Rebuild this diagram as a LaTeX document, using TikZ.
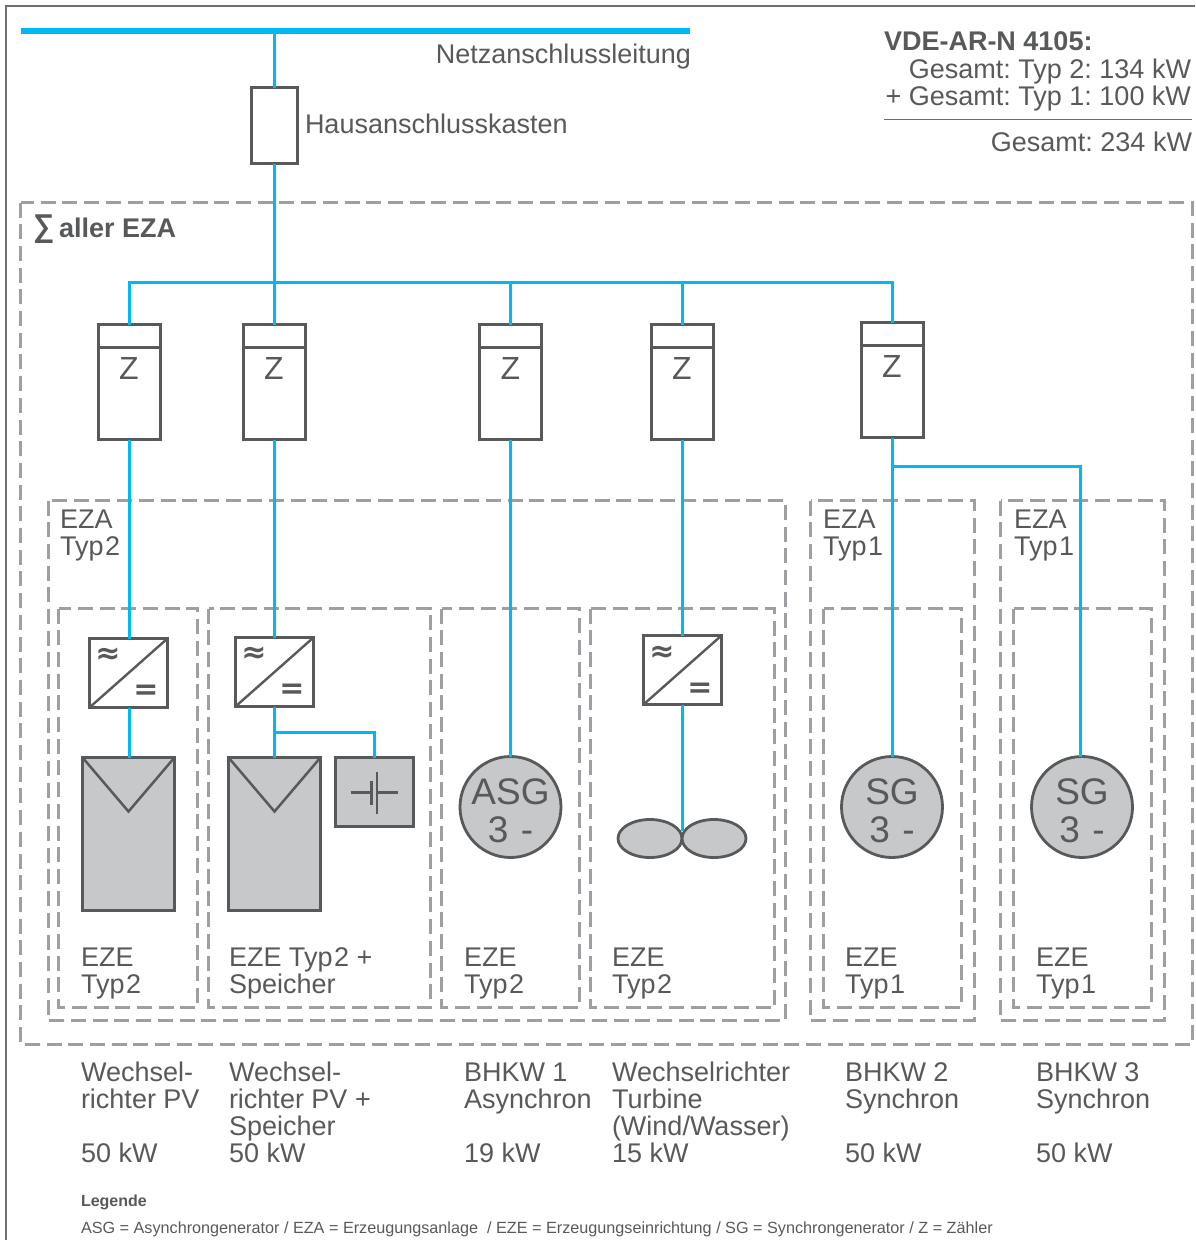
\documentclass[tikz,border=0pt]{standalone}
\usepackage{fontspec}
\usepackage{graphicx}
\setmainfont{Liberation Sans}
\newfontfamily\symfont{DejaVu Sans}
\usetikzlibrary{shapes.geometric,calc}
\definecolor{netz}{HTML}{00B9F2}
\definecolor{dgray}{HTML}{58595B}
\definecolor{dash}{HTML}{9D9FA2}
\definecolor{sfill}{HTML}{C7C8CA}
\definecolor{frame}{HTML}{6D6E71}
\newcommand{\szA}{\fontsize{27}{27}\selectfont}
\newcommand{\tsp}{\hspace{1.5pt}}
\frenchspacing
\begin{document}
\begin{tikzpicture}[x=1pt,y=-1pt,
  dashbox/.style={draw=dash,line width=2.7pt,dash pattern=on 15pt off 6.7pt},
  wire/.style={draw=netz,line width=2.8pt},
  box/.style={draw=dgray,line width=2.8pt,rectangle,outer sep=0pt,inner sep=0pt,fill=white},
  stripbox/.style={box,minimum width=62pt,minimum height=23pt},
  meter/.style={box,minimum width=62pt,minimum height=92pt},
  invbox/.style={box,minimum width=78pt,minimum height=69pt},
  pvbox/.style={box,fill=sfill,minimum width=92pt,minimum height=153pt},
  gen/.style={circle,draw=dgray,line width=2.8pt,fill=sfill,outer sep=0pt,inner sep=0pt,minimum size=101pt},
  blade/.style={ellipse,draw=dgray,line width=2.8pt,fill=sfill,outer sep=0pt,inner sep=0pt,minimum width=64pt,minimum height=38pt},
  sym/.style={draw=dgray,line width=2.1pt},
  txt/.style={text=dgray,inner sep=0pt,outer sep=0pt,font=\szA,anchor=base west,align=left},
  txtr/.style={txt,anchor=base east,align=right},
  ztxt/.style={text=dgray,inner sep=0pt,font=\fontsize{32}{32}\selectfont,anchor=base},
  gentxt/.style={text=dgray,inner sep=0pt,font=\fontsize{37}{37}\selectfont,anchor=base},
  ac/.style={text=dgray,inner sep=0pt,font=\symfont\bfseries\fontsize{30}{30}\selectfont},
  dc/.style={text=dgray,inner sep=0pt,font=\symfont\bfseries\fontsize{30}{30}\selectfont},
]
\useasboundingbox (0,0) rectangle (1195,1240);
% frame
\coordinate (fTL) at (6,6);
\coordinate (fTR) at (1195,6);
\coordinate (fBL) at (6,1240);
\draw[frame,line width=1.2pt] (fTR) -- (fTL) -- (fBL);
% dashed groups
\draw[dashbox] (20.5,202.5) rectangle (1192.5,1044.5);
\draw[dashbox] (48.5,500.5) rectangle (785.5,1020.5);
\draw[dashbox] (810.5,500.5) rectangle (974.5,1020.5);
\draw[dashbox] (1000.5,500.5) rectangle (1164.5,1020.5);
\draw[dashbox] (58.5,608.5) rectangle (197.5,1007.5);
\draw[dashbox] (208.5,608.5) rectangle (430.5,1007.5);
\draw[dashbox] (441.5,608.5) rectangle (579.5,1007.5);
\draw[dashbox] (590.5,608.5) rectangle (774.5,1007.5);
\draw[dashbox] (823.5,608.5) rectangle (961.5,1007.5);
\draw[dashbox] (1013.5,608.5) rectangle (1151.5,1007.5);
% top bar and house box
\coordinate (barW) at (21,31);
\coordinate (barE) at (690,31);
\coordinate (bus) at (274.5,282.5);
\node[box,minimum width=46pt,minimum height=76pt] (hak) at (274.5,125.5) {};
% meters
\node[stripbox] (s1) at (129.5,336) {};
\node[meter] (z1) at (129.5,393.5) {};
\node[stripbox] (s2) at (274.5,336) {};
\node[meter] (z2) at (274.5,393.5) {};
\node[stripbox] (s3) at (510.5,336) {};
\node[meter] (z3) at (510.5,393.5) {};
\node[stripbox] (s4) at (682.5,336) {};
\node[meter] (z4) at (682.5,393.5) {};
\node[stripbox] (s5) at (892.5,334) {};
\node[meter] (z5) at (892.5,391.5) {};
\node[ztxt] (zt1) at (129,379) {Z};
\node[ztxt] (zt2) at (274,379) {Z};
\node[ztxt] (zt3) at (510.5,379) {Z};
\node[ztxt] (zt4) at (682,379) {Z};
\node[ztxt] (zt5) at (892,377) {Z};
% inverters
\node[invbox] (i1) at (128.5,673) {};
\node[invbox] (i2) at (274.5,672) {};
\node[invbox] (i3) at (682.5,670) {};
\draw[sym,line width=2.4pt] (i1.south west) -- (i1.north east);
\draw[sym,line width=2.4pt] (i2.south west) -- (i2.north east);
\draw[sym,line width=2.4pt] (i3.south west) -- (i3.north east);
\node[ac] (a1) at (108,656) {≈};
\node[ac] (a2) at (254,655) {≈};
\node[ac] (a3) at (662,654) {≈};
\node[dc] (d1) at (146,692) {=};
\node[dc] (d2) at (292,691) {=};
\node[dc] (d3) at (700,690) {=};
% PV
\node[pvbox] (p1) at (128.5,834) {};
\node[pvbox] (p2) at (274.5,834) {};
\draw[draw=dgray,line width=2.5pt] (p1.north west) -- ($(p1.north)+(0,54)$) -- (p1.north east);
\draw[draw=dgray,line width=2.5pt] (p2.north west) -- ($(p2.north)+(0,54)$) -- (p2.north east);
% battery
\node[box,fill=sfill,minimum width=78pt,minimum height=69pt] (b) at (374.5,792) {};
\coordinate (bL) at ($(b.center)+(-24,0.5)$);
\coordinate (bS) at ($(b.center)+(-3,0.5)$);
\coordinate (bB) at ($(b.center)+(2.5,0.5)$);
\coordinate (bR) at ($(b.center)+(23.5,0.5)$);
\draw[sym] (bL) -- (bS);
\draw[sym] ($(bS)+(0,-12)$) -- ($(bS)+(0,12)$);
\draw[sym] ($(bB)+(0,-21)$) -- ($(bB)+(0,21)$);
\draw[sym] (bB) -- (bR);
% generators
\node[gen] (g1) at (510.5,807) {};
\node[gen] (g2) at (892,807) {};
\node[gen] (g3) at (1082,807) {};
\node[gentxt] (g1a) at (510.5,804) {ASG};
\node[gentxt] (g1b) at (510.5,842) {3\,\,-};
\node[gentxt] (g2a) at (892,804) {SG};
\node[gentxt] (g2b) at (892,842) {3\,\,-};
\node[gentxt] (g3a) at (1082,804) {SG};
\node[gentxt] (g3b) at (1082,842) {3\,\,-};
% turbine
\node[blade] (t1) at (650,838.5) {};
\node[blade] (t2) at (714,838.5) {};
\coordinate (tj) at (682.5,831);
% connectors
\draw[netz,line width=6pt] (barW) -- (barE);
\draw[wire] (hak.north) -- (hak.north |- barW);
\draw[wire] (hak.south) -- (bus);
\draw[wire] (s1.north) |- (bus) -| (s5.north);
\draw[wire] (s2.north) -- (s2.north |- bus);
\draw[wire] (s3.north) -- (s3.north |- bus);
\draw[wire] (s4.north) -- (s4.north |- bus);
\draw[wire] (z1.south) -- (z1.south |- i1.north);
\draw[wire] (i1.south -| z1.south) -- (z1.south |- p1.north);
\draw[wire] (z2.south) -- (i2.north);
\draw[wire] (i2.south) -- (p2.north);
\coordinate (bj) at ($(i2.south)+(0,26)$);
\draw[wire] (bj) -| (b.north);
\draw[wire] (z3.south) -- (z3.south |- g1.north);
\draw[wire] (z4.south) -- (i3.north);
\draw[wire] (i3.south) -- (tj);
\draw[wire] (z5.south) -- (z5.south |- g2.north);
\coordinate (zb) at ($(z5.south)+(0,29)$);
\coordinate (g3t) at (1080.5,757);
\draw[wire] (zb) -| (g3t);
% labels
\node[txtr] (netzl) at (691,63) {Netzanschlussleitung};
\node[txt] (hakl) at (305,133) {Hausanschlusskasten};
\node[txt,font=\szA\bfseries] (vde) at (884,50) {VDE-AR-N 4105:};
\node[txtr] (g2l) at (1191,78) {Gesamt: Typ 2: 134 kW};
\node[txtr] (g1l) at (1191,105) {+ Gesamt: Typ 1: 100 kW};
\coordinate (rW) at (884,119.5);
\coordinate (rE) at (1192,119.5);
\draw[frame,line width=1pt] (rW) -- (rE);
\node[txtr] (gl) at (1192,151) {Gesamt: 234 kW};
\node[txt,font=\szA\bfseries] (sum) at (33,237) {\makebox[26pt][l]{\raisebox{1pt}{\scalebox{1.1}[1.17]{∑}}}aller EZA};
\node[txt] (e1) at (60,555) {EZA\\Typ\tsp 2};
\node[txt] (e2) at (823,555) {EZA\\Typ\tsp 1};
\node[txt] (e3) at (1014,555) {EZA\\Typ\tsp 1};
\node[txt] (f1) at (81,993) {EZE\\Typ\tsp 2};
\node[txt] (f2) at (229,993) {EZE Typ\tsp 2 +\\Speicher};
\node[txt] (f3) at (464,993) {EZE\\Typ\tsp 2};
\node[txt] (f4) at (612,993) {EZE\\Typ\tsp 2};
\node[txt] (f5) at (845,993) {EZE\\Typ\tsp 1};
\node[txt] (f6) at (1036,993) {EZE\\Typ\tsp 1};
\node[txt] (l1) at (81,1162) {Wechsel-\\richter PV\\\mbox{}\\50 kW};
\node[txt] (l2) at (229,1162) {Wechsel-\\richter PV +\\Speicher\\50 kW};
\node[txt] (l3) at (464,1162) {BHKW 1\\Asynchron\\\mbox{}\\19 kW};
\node[txt] (l4) at (612,1162) {Wechselrichter\\Turbine\\(Wind/Wasser)\\15 kW};
\node[txt] (l5) at (845,1162) {BHKW 2\\Synchron\\\mbox{}\\50 kW};
\node[txt] (l6) at (1036,1162) {BHKW 3\\Synchron\\\mbox{}\\50 kW};
\node[txt,font=\fontsize{16}{16}\selectfont\bfseries] (leg) at (81,1206) {Legende};
\node[txt,font=\fontsize{16.2}{16.2}\selectfont] (legt) at (81,1233) {ASG = Asynchrongenerator / EZA = Erzeugungsanlage \ / EZE = Erzeugungseinrichtung / SG = Synchrongenerator / Z = Zähler};
\end{tikzpicture}
\end{document}
